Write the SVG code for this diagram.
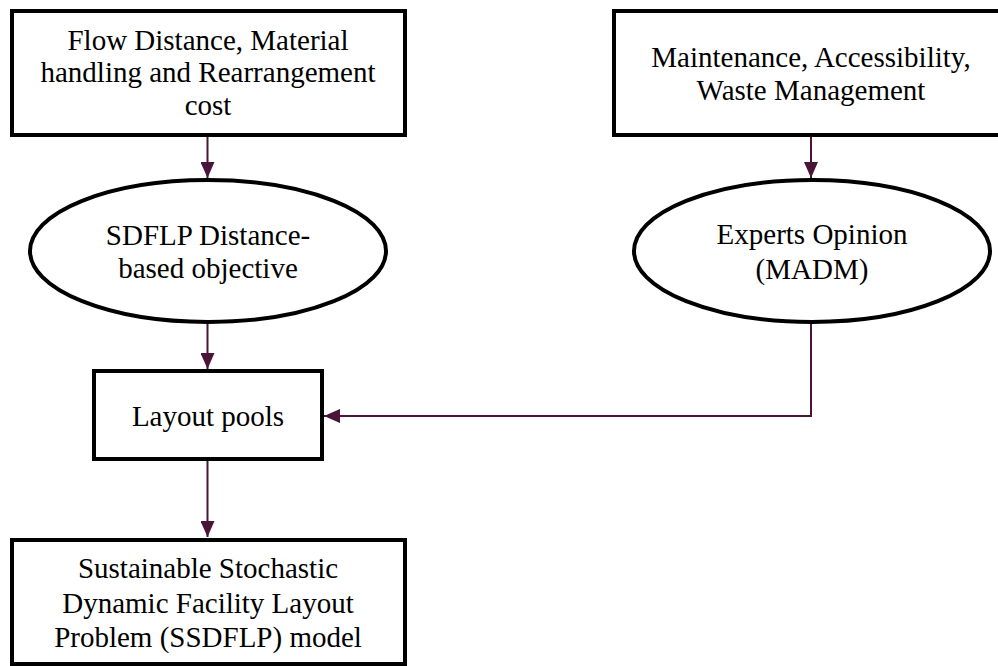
<svg xmlns="http://www.w3.org/2000/svg" width="998" height="666" viewBox="0 0 998 666">
<style>
.box{fill:#fff;stroke:#000;stroke-width:4}
.t{font-family:"Liberation Serif","Times New Roman",serif;font-size:29px;fill:#000;text-anchor:middle}
.c{fill:none;stroke:#4a1538;stroke-width:2}
</style>
<defs>
<marker id="ah" viewBox="0 0 16 14" refX="16" refY="7" markerWidth="16" markerHeight="14" markerUnits="userSpaceOnUse" orient="auto">
<path d="M0,0 L16,7 L0,14 Z" fill="#4a1538"/>
</marker>
</defs>
<rect width="998" height="666" fill="#fff"/>
<g id="connectors">
<line class="c" x1="207.5" y1="135" x2="207.5" y2="178" marker-end="url(#ah)"/>
<line class="c" x1="811" y1="135" x2="811" y2="178" marker-end="url(#ah)"/>
<line class="c" x1="207.5" y1="323" x2="207.5" y2="369" marker-end="url(#ah)"/>
<polyline class="c" points="811,323 811,416 324,416" marker-end="url(#ah)"/>
<line class="c" x1="207.5" y1="460" x2="207.5" y2="537" marker-end="url(#ah)"/>
</g>
<g id="n1">
<rect class="box" x="12" y="11" width="393" height="124"/>
<text class="t" x="208" y="50">Flow Distance, Material</text>
<text class="t" x="208" y="82">handling and Rearrangement</text>
<text class="t" x="208" y="115">cost</text>
</g>
<g id="n2">
<rect class="box" x="614" y="11" width="400" height="124"/>
<text class="t" x="811" y="67">Maintenance, Accessibility,</text>
<text class="t" x="811" y="100">Waste Management</text>
</g>
<g id="n3">
<ellipse class="box" cx="208" cy="251" rx="178" ry="71"/>
<text class="t" x="208" y="245">SDFLP Distance-</text>
<text class="t" x="208" y="278">based objective</text>
</g>
<g id="n4">
<ellipse class="box" cx="812" cy="251" rx="178" ry="71"/>
<text class="t" x="812" y="244">Experts Opinion</text>
<text class="t" x="812" y="279">(MADM)</text>
</g>
<g id="n5">
<rect class="box" x="94" y="371" width="228" height="88"/>
<text class="t" x="208" y="426">Layout pools</text>
</g>
<g id="n6">
<rect class="box" x="12" y="540" width="393" height="124"/>
<text class="t" x="208" y="578">Sustainable Stochastic</text>
<text class="t" x="208" y="613">Dynamic Facility Layout</text>
<text class="t" x="208" y="647">Problem (SSDFLP) model</text>
</g>
</svg>
